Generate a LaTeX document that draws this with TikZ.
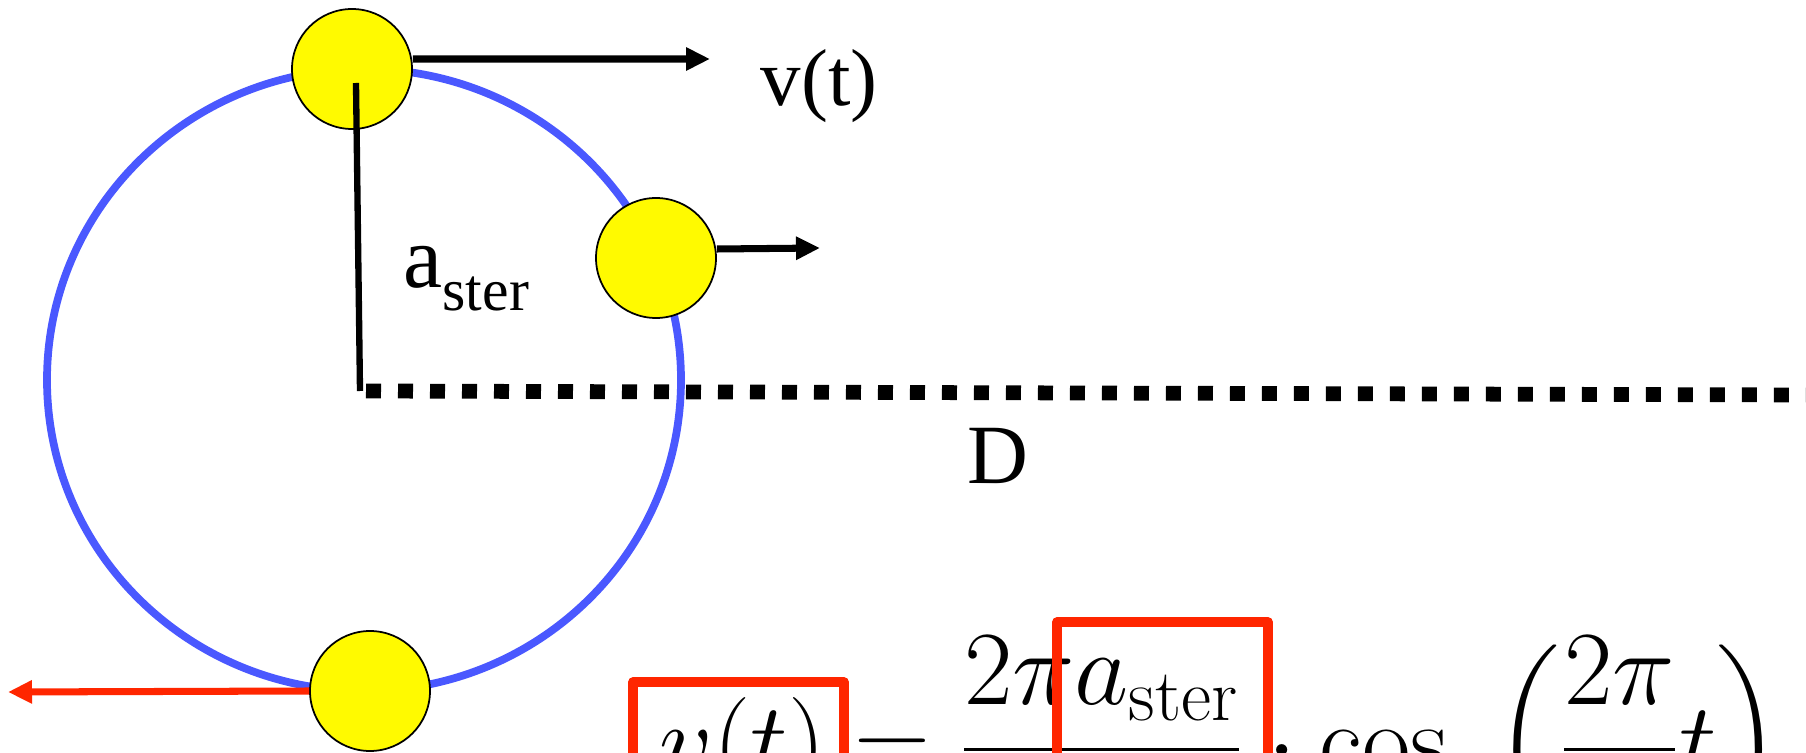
\RequirePackage{fix-cm}
\documentclass[tikz,border=0pt]{standalone}
\usepackage{fontspec}
\newfontfamily\labelfont{Liberation Serif}
\usepackage{amsmath}
\usetikzlibrary{arrows.meta}
\definecolor{orbitblue}{RGB}{74,88,255}
\definecolor{boxred}{RGB}{255,38,0}
\definecolor{staryellow}{RGB}{255,250,0}

\begin{document}
\begin{tikzpicture}[>={Triangle[length=0.24cm,width=0.22cm]},
  star/.style={circle, draw, line width=0.5pt, fill=staryellow, minimum size=1.2cm, inner sep=0pt},
  lbl/.style={anchor=base west, inner sep=0pt, font=\labelfont\fontsize{23}{27}\selectfont},
  vel/.style={->, line width=2pt},
  hl/.style={boxred, line width=2.6pt, line join=round}]
  \useasboundingbox (0,0) rectangle (18.06,7.53);
  \clip (0,0) rectangle (18.06,7.53);
  % orbit
  \coordinate (c) at (3.64,3.73);
  \draw[orbitblue, line width=2.2pt] (c) ellipse (3.17 and 3.11);
  % distance to the observer
  \coordinate (o) at (3.60,3.62);
  \coordinate (far) at (18.06,3.58);
  \draw[line width=4.2pt, dash pattern=on 0.15cm off 0.17cm] ([xshift=0.6mm]o) -- (far);
  % stars on the orbit
  \node[star] (s1) at (3.52,6.84) {};
  \node[star] (s2) at (6.56,4.95) {};
  \node[star] (s3) at (3.70,0.62) {};
  % radius
  \draw[line width=1.8pt] ([shift={(0.04,-0.14)}]s1.center) -- (o);
  % velocities
  \coordinate (v1) at (7.10,6.94);
  \coordinate (v2) at (8.20,5.05);
  \coordinate (v3) at (0.08,0.61);
  \draw[vel] ([yshift=1mm]s1.east) -- (v1);
  \draw[vel] ([yshift=0.9mm]s2.east) -- (v2);
  \draw[vel, boxred] (s3.west) -- (v3);
  % labels
  \node[lbl] (vt) at (7.60,6.47) {v(t)};
  \node[lbl, font=\labelfont\fontsize{25}{29}\selectfont] (ast) at (4.03,4.65)
    {a\raisebox{-0.23cm}{\fontsize{17}{20}\selectfont ster}};
  \node[lbl, font=\labelfont\fontsize{24}{28}\selectfont] (dist) at (9.67,2.69) {D};
  % formula
  \node[anchor=base west, inner sep=0pt] (eq) at (6.59,-0.23)
    {\fontsize{30}{36}\selectfont $\displaystyle v(t)=\frac{2\pi a_{\mathrm{ster}}}{T}\cdot\cos\;\left(\frac{2\pi}{T}t\right)$};
  \draw[hl] (6.33,-0.6) rectangle (8.44,0.71);
  \draw[hl] (10.57,-0.6) rectangle (12.68,1.31);
\end{tikzpicture}
\end{document}
